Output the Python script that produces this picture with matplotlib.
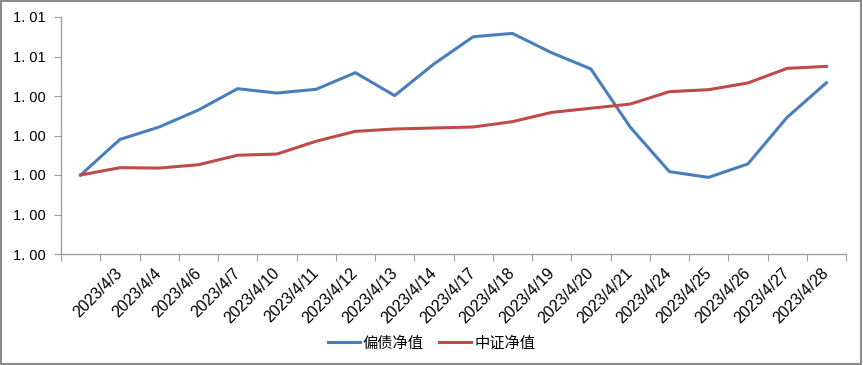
import matplotlib
matplotlib.use("Agg")
import matplotlib.pyplot as plt
from matplotlib.patches import Rectangle
from matplotlib.ticker import FixedLocator, FuncFormatter
from matplotlib.transforms import ScaledTranslation

dates = ['', '2023/4/3', '2023/4/4', '2023/4/6', '2023/4/7', '2023/4/10',
         '2023/4/11', '2023/4/12', '2023/4/13', '2023/4/14', '2023/4/17',
         '2023/4/18', '2023/4/19', '2023/4/20', '2023/4/21', '2023/4/24',
         '2023/4/25', '2023/4/26', '2023/4/27', '2023/4/28']
bond_nav = [1.0000, 1.0018, 1.00243, 1.00329, 1.00437, 1.00415, 1.00434,
            1.00518, 1.00402, 1.00562, 1.00700, 1.00717, 1.00619, 1.00537,
            1.00243, 1.00017, 0.99988, 1.00056, 1.00292, 1.00467]
csi_nav = [1.0000, 1.00037, 1.00035, 1.00052, 1.00100, 1.00106, 1.00171,
           1.00221, 1.00233, 1.00238, 1.00243, 1.00270, 1.00317, 1.00338,
           1.00359, 1.00422, 1.00432, 1.00466, 1.00540, 1.00550]
y_ticks = [0.996, 0.998, 1.000, 1.002, 1.004, 1.006, 1.008]


def main():
	plt.rcParams['font.family'] = ['Liberation Sans', 'Noto Sans CJK SC', 'DejaVu Sans']
	fig = plt.figure(figsize=(8.63, 3.65), dpi=100)
	ax = fig.add_axes([61 / 863, 1 - 254 / 365, 785 / 863, 237 / 365])

	x = list(range(len(dates)))
	ax.plot(x, bond_nav, color='#4A7EBB', lw=2.2, label='偏债净值')
	ax.plot(x, csi_nav, color='#BE4B48', lw=2.2, label='中证净值')

	ax.set_xlim(-0.5, len(dates) - 0.5)
	ax.set_ylim(y_ticks[0], y_ticks[-1])

	# ticks at category boundaries, labels at centres
	ax.xaxis.set_major_locator(FixedLocator([i - 0.5 for i in range(len(dates) + 1)]))
	ax.xaxis.set_minor_locator(FixedLocator(x))
	ax.set_xticklabels([], minor=False)
	ax.set_xticklabels(dates, minor=True, rotation=45, ha='right', va='top',
	                   rotation_mode='anchor', fontsize=11.5)
	ax.tick_params(axis='x', which='major', length=5, color='#A0A0A0', direction='out')
	ax.tick_params(axis='x', which='minor', length=0, pad=8)
	shift = ScaledTranslation(-5 / 100, 0, fig.dpi_scale_trans)
	for lbl in ax.get_xticklabels(minor=True):
		lbl.set_transform(lbl.get_transform() + shift)

	ax.set_yticks(y_ticks)
	ax.yaxis.set_major_formatter(FuncFormatter(lambda v, p: ('%.2f' % v).replace('.', '. ')))
	ax.tick_params(axis='y', length=5, color='#A0A0A0', labelsize=10.5, pad=6)

	for side in ['top', 'right']:
		ax.spines[side].set_visible(False)
	for side in ['left', 'bottom']:
		ax.spines[side].set_color('#A0A0A0')
		ax.spines[side].set_linewidth(1.0)

	fig.legend(loc='center', bbox_to_anchor=(0.5, 1 - 343 / 365), ncol=2,
	           frameon=False, handlelength=2.1, handletextpad=0.2,
	           columnspacing=1.0, prop={'family': 'Noto Sans CJK SC', 'size': 11})

	fig.patches.append(Rectangle((0.001, 0.002), 0.997, 0.995, transform=fig.transFigure,
	                             fill=False, edgecolor='#8C8C8C', lw=1.5))
	fig.savefig('out.png', dpi=100)


if __name__ == "__main__":
	main()
